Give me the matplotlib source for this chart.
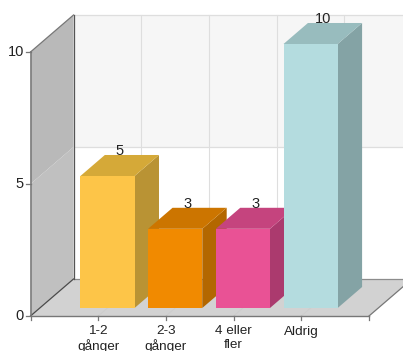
#!/usr/bin/env python3
"""Fake-3D column chart: survey answers drawn as extruded bars in a box."""
import matplotlib; matplotlib.use("Agg"); import matplotlib.pyplot as plt
from matplotlib.patches import Polygon

plt.rcParams["font.family"] = ["Liberation Sans", "DejaVu Sans"]

CATS = ["1-2\ngånger", "2-3\ngånger", "4 eller\nfler", "Aldrig"]
VALS = [5, 3, 3, 10]
YTICKS = [0, 5, 10]
FRONT = ["#fdc548", "#f18a00", "#e95295", "#b4dcdf"]
TOP = ["#d5a938", "#cc7500", "#c5447e", "#98bcbe"]
SIDE = ["#b99334", "#b36700", "#ab3a6e", "#84a3a5"]

W, H = 403, 351
X0, UX = 30.5, 67.7     # px of category 0, px per category
Y0, UY = 316.0, 26.4    # px of value 0, px per value
DX, DY = 43 / UX, 37 / UY   # full box depth, in data units
BAR_Z0, BAR_Z1 = 0.216, 0.784   # bar depth range inside the box
BAR_W = 0.8

fig = plt.figure(figsize=(W / 100, H / 100), dpi=100)
ax = fig.add_axes([0, 0, 1, 1])
ax.set_xlim(-X0 / UX, (W - X0) / UX)
ax.set_ylim((Y0 - H) / UY, Y0 / UY)
ax.axis("off")

def pr(x, v, z=0.0):
    return x + z * DX, v + z * DY

def face(pts, fc, zo=1):
    ax.add_patch(Polygon([pr(*p) for p in pts], closed=True, fc=fc, ec="none", lw=0, zorder=zo))

XR = len(CATS) + 1
YMAX = YTICKS[-1]

# back wall bands, left wall bands, floor
face([(0, 5, 1), (XR, 5, 1), (XR, 10, 1), (0, 10, 1)], "#f6f6f6")
face([(0, 5, 0), (0, 5, 1), (0, 10, 1), (0, 10, 0)], "#b9b9b9")
face([(0, 0, 0), (0, 0, 1), (0, 5, 1), (0, 5, 0)], "#c0c0c0")
face([(0, 0, 0), (XR, 0, 0), (XR, 0, 1), (0, 0, 1)], "#d2d2d2")

# grid on the back wall and the floor
for i in range(XR + 1):
    bx, by = pr(i, 0, 1)
    ax.plot([bx, bx], [by, by + YMAX], color="#dedede", lw=0.8, zorder=2)
    if 0 < i < XR:
        ax.plot(*zip(pr(i, 0, 0), pr(i, 0, 1)), color="#cccccc", lw=0.6, zorder=2)
for v in YTICKS[1:]:
    ax.plot(*zip(pr(0, v, 1), pr(XR, v, 1)), color="#dedede", lw=0.9, zorder=2)

# box outline
edge = "#777777"
ax.plot(*zip(pr(0, 0, 1), pr(XR, 0, 1)), color="#8c8c8c", lw=0.9, zorder=3)
ax.plot(*zip(pr(0, 0, 0), pr(XR, 0, 0)), color=edge, lw=1, zorder=3)
ax.plot(*zip(pr(XR, 0, 0), pr(XR, 0, 1)), color=edge, lw=0.9, zorder=3)
ax.plot(*zip(pr(0, 0, 0), pr(0, 0, 1)), color="#4a4a4a", lw=0.9, zorder=3)
ax.plot(*zip(pr(0, 0, 1), pr(0, YMAX, 1)), color="#555555", lw=0.9, zorder=3)
ax.plot(*zip(pr(0, YMAX, 0), pr(0, YMAX, 1)), color=edge, lw=0.9, zorder=3)
ax.plot(*zip(pr(0, 0, 0), pr(0, YMAX, 0)), color=edge, lw=1.1, zorder=3)

# y ticks and labels
for v in YTICKS:
    ax.plot([-5 / UX, 0], [v, v], color=edge, lw=0.9, zorder=3)
    ax.text(-6.5 / UX, v, str(v), ha="right", va="center", fontsize=10.5, color="#222222")

# x ticks and labels
for i in range(XR + 1):
    ax.plot([i, i], [0, -4 / UY], color=edge, lw=0.9, zorder=3)
for i, c in enumerate(CATS):
    ax.text(i + 1, -9.5 / UY, c, ha="center", va="top", fontsize=9.7, color="#222222", linespacing=1.12)

# columns, left to right so each one overlaps the previous
for i, (v, c) in enumerate(zip(VALS, CATS)):
    l, r = i + 1 - BAR_W / 2, i + 1 + BAR_W / 2
    zo = 5 + i
    face([(r, 0, BAR_Z0), (r, 0, BAR_Z1), (r, v, BAR_Z1), (r, v, BAR_Z0)], SIDE[i], zo=zo)
    face([(l, v, BAR_Z0), (r, v, BAR_Z0), (r, v, BAR_Z1), (l, v, BAR_Z1)], TOP[i], zo=zo)
    face([(l, 0, BAR_Z0), (r, 0, BAR_Z0), (r, v, BAR_Z0), (l, v, BAR_Z0)], FRONT[i], zo=zo)
    tx = pr(i + 1, v, 0.5)[0]
    ty = pr(i + 1, v, BAR_Z1)[1]
    ax.text(tx, ty + 3.5 / UY, str(v), ha="center", va="center", fontsize=10.5, color="#222222", zorder=20)

fig.savefig("out.png", dpi=100)
print("wrote out.png")
